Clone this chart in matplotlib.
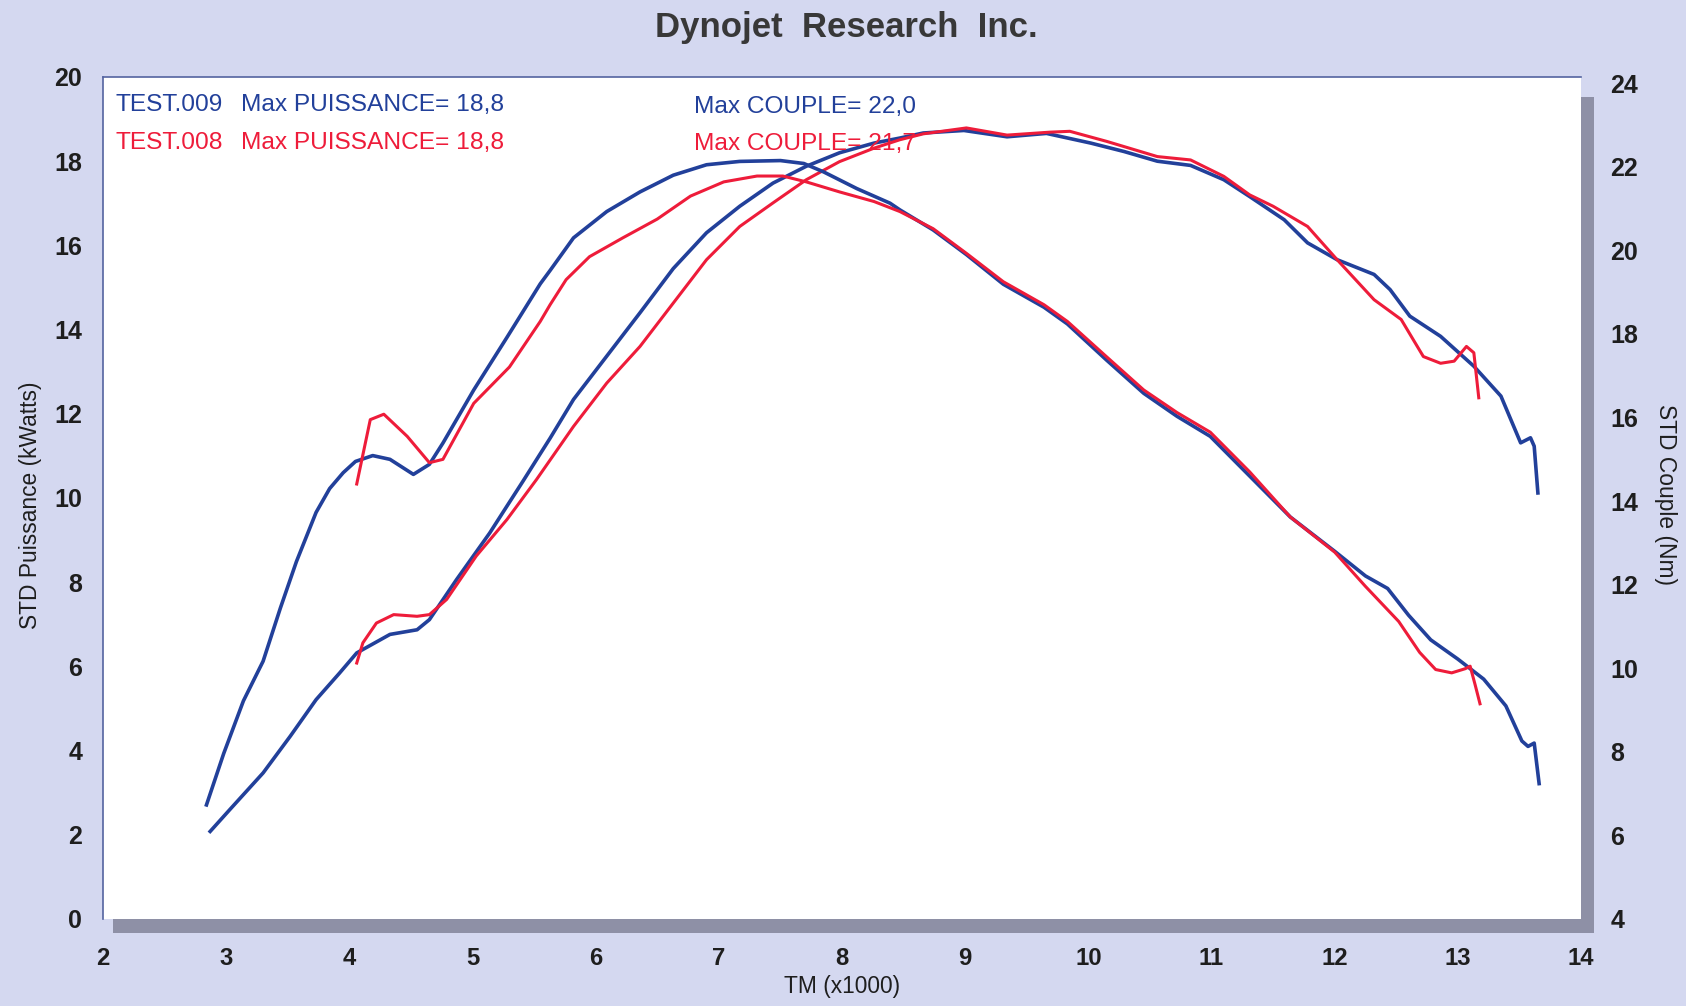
import matplotlib
matplotlib.use('Agg')
import matplotlib.pyplot as plt
from matplotlib.patches import Rectangle
from matplotlib import font_manager

# dyno run data, rpm in thousands
rpm_pw_009 = [2.87, 3.03, 3.30, 3.52, 3.73, 3.92, 4.06, 4.33, 4.55, 4.65, 4.87, 5.14, 5.30, 5.41,
              5.55, 5.63, 5.82, 6.09, 6.36, 6.63, 6.90, 7.17, 7.44, 7.71, 7.98, 8.26, 8.47, 8.66,
              8.99, 9.34, 9.66, 10.02, 10.29, 10.56, 10.83, 11.10, 11.31, 11.59, 11.78, 12.02,
              12.32, 12.45, 12.61, 12.86, 13.13, 13.35, 13.51, 13.59, 13.62, 13.65]
pw_009 = [2.08, 2.60, 3.47, 4.34, 5.21, 5.84, 6.32, 6.76, 6.87, 7.11, 8.06, 9.17, 9.90, 10.40,
          11.05, 11.42, 12.34, 13.37, 14.40, 15.45, 16.30, 16.93, 17.48, 17.88, 18.20, 18.43, 18.55, 18.67,
          18.73, 18.58, 18.66, 18.43, 18.23, 18.00, 17.90, 17.56, 17.16, 16.61, 16.06, 15.66,
          15.31, 14.95, 14.32, 13.84, 13.13, 12.42, 11.31, 11.43, 11.23, 10.12]

rpm_pw_008 = [4.06, 4.11, 4.22, 4.36, 4.55, 4.65, 4.79, 5.03, 5.28, 5.52, 5.82, 6.09, 6.36, 6.63,
              6.90, 7.17, 7.44, 7.71, 7.98, 8.26, 8.47, 8.66, 9.01, 9.34, 9.69, 9.85, 10.15, 10.56,
              10.83, 11.10, 11.31, 11.50, 11.78, 12.02, 12.32, 12.54, 12.72, 12.86, 12.97, 13.07,
              13.13, 13.17]
pw_008 = [6.08, 6.56, 7.03, 7.23, 7.19, 7.23, 7.59, 8.62, 9.49, 10.44, 11.70, 12.73, 13.60, 14.63,
          15.66, 16.45, 17.01, 17.56, 17.99, 18.31, 18.51, 18.65, 18.79, 18.62, 18.69, 18.71, 18.47, 18.11,
          18.03, 17.64, 17.20, 16.93, 16.45, 15.66, 14.71, 14.24, 13.36, 13.20, 13.25, 13.60,
          13.45, 12.38]

rpm_tq_009 = [2.84, 2.98, 3.14, 3.30, 3.44, 3.57, 3.73, 3.84, 3.95, 4.05, 4.19, 4.33, 4.52, 4.65,
              4.76, 5.01, 5.28, 5.55, 5.63, 5.82, 6.09, 6.36, 6.63, 6.90, 7.17, 7.50, 7.69, 7.85,
              8.12, 8.39, 8.47, 8.74, 9.01, 9.31, 9.64, 9.83, 10.15, 10.45, 10.72, 10.99, 11.31,
              11.64, 12.00, 12.25, 12.43, 12.60, 12.78, 13.00, 13.21, 13.39, 13.52, 13.57, 13.62, 13.66]
tq_009 = [6.73, 7.96, 9.22, 10.17, 11.44, 12.55, 13.73, 14.30, 14.68, 14.95, 15.09, 15.00, 14.64, 14.88,
          15.39, 16.66, 17.92, 19.20, 19.52, 20.30, 20.93, 21.40, 21.80, 22.05, 22.13, 22.15, 22.08, 21.88,
          21.48, 21.13, 20.97, 20.49, 19.90, 19.19, 18.64, 18.24, 17.37, 16.58, 16.03, 15.55, 14.60,
          13.62, 12.80, 12.21, 11.91, 11.27, 10.68, 10.22, 9.74, 9.10, 8.26, 8.13, 8.21, 7.24]

rpm_tq_008 = [4.06, 4.17, 4.28, 4.47, 4.65, 4.76, 5.01, 5.30, 5.55, 5.63, 5.76, 5.95, 6.22, 6.50,
              6.77, 7.04, 7.31, 7.52, 7.71, 7.98, 8.26, 8.47, 8.74, 9.01, 9.31, 9.64, 9.83, 10.15,
              10.45, 10.72, 10.99, 11.31, 11.64, 12.00, 12.25, 12.52, 12.69, 12.82, 12.95, 13.06,
              13.10, 13.14, 13.18]
tq_008 = [14.41, 15.95, 16.08, 15.55, 14.92, 15.00, 16.34, 17.21, 18.30, 18.70, 19.30, 19.85, 20.30, 20.75,
          21.30, 21.64, 21.78, 21.78, 21.64, 21.40, 21.17, 20.93, 20.52, 19.93, 19.25, 18.70, 18.30, 17.45,
          16.66, 16.12, 15.65, 14.70, 13.62, 12.78, 11.96, 11.12, 10.38, 9.97, 9.89, 9.99,
          10.05, 9.61, 9.15]

x_ticks = list(range(2, 15))
left_ticks = list(range(0, 21, 2))
right_ticks = list(range(4, 25, 2))

W, H = 1686, 1006
BG = '#d4d8f0'
BLUE = '#22409a'
RED = '#ee1c3a'

names = {f.name for f in font_manager.fontManager.ttflist}
narrow = 'Liberation Sans Narrow' in names
NARROW = 'Liberation Sans Narrow' if narrow else 'Liberation Sans'
k = 1.0 if narrow else 0.82

fig = plt.figure(figsize=(W / 100, H / 100), dpi=100, facecolor=BG)
ax = fig.add_axes([103 / W, 1 - 919 / H, (1581 - 103) / W, (919 - 77) / H])

# drop shadow behind the white plot area
fig.patches.append(Rectangle((113 / W, 1 - 933 / H), (1594 - 113) / W, (933 - 97) / H,
                             transform=fig.transFigure, facecolor='#8e90a6',
                             edgecolor='none', zorder=-1))

ax.set_facecolor('white')
ax.set_xlim(2, 14)
ax.set_ylim(0, 20)
ax.set_xticks(x_ticks)
ax.set_yticks(left_ticks)
for s in ['right', 'bottom']:
    ax.spines[s].set_visible(False)
for s in ['left', 'top']:
    ax.spines[s].set_color('#5464a0')
    ax.spines[s].set_linewidth(1.2)

ax2 = ax.twinx()
ax2.set_ylim(4.18, 24.15)
ax2.set_yticks(right_ticks)
for s in ax2.spines.values():
    s.set_visible(False)

ax.plot(rpm_pw_009, pw_009, color=BLUE, lw=2.6, solid_joinstyle='round', zorder=3)
ax.plot(rpm_pw_008, pw_008, color=RED, lw=2.2, solid_joinstyle='round', zorder=4)
ax2.plot(rpm_tq_009, tq_009, color=BLUE, lw=2.6, solid_joinstyle='round', zorder=3)
ax2.plot(rpm_tq_008, tq_008, color=RED, lw=2.2, solid_joinstyle='round', zorder=4)

ax.tick_params(axis='y', length=0, pad=15, labelsize=18, labelcolor='#1e1e1e')
ax.tick_params(axis='x', length=0, pad=20, labelcolor='#1e1e1e')
ax2.tick_params(axis='y', length=0, pad=21, labelsize=18, labelcolor='#1e1e1e')
for t in ax.get_yticklabels() + ax2.get_yticklabels():
    t.set_fontfamily('Liberation Sans')
    t.set_fontweight('bold')
for t in ax.get_xticklabels():
    t.set_fontfamily(NARROW)
    t.set_fontweight('bold')
    t.set_fontsize(21 * k)

fig.text(846 / W, 1 - 27 / H, 'Dynojet  Research  Inc.', ha='center', va='center',
         fontsize=25, fontweight='bold', family='Liberation Sans', color='#383838')
fig.text(30 / W, 1 - 505 / H, 'STD Puissance (kWatts)', rotation=90, ha='center', va='center',
         fontsize=20 * k, family=NARROW, color='#1e1e1e')
fig.text(1665 / W, 1 - 495 / H, 'STD Couple (Nm)', rotation=-90, ha='center', va='center',
         fontsize=20 * k, family=NARROW, color='#1e1e1e')
fig.text(842 / W, 1 - 987 / H, 'TM (x1000)', ha='center', va='center',
         fontsize=20 * k, family=NARROW, color='#1e1e1e')

leg = dict(va='center', ha='left', fontsize=21.5 * k, family=NARROW)
fig.text(116 / W, 1 - 105 / H, 'TEST.009', color=BLUE, **leg)
fig.text(241 / W, 1 - 105 / H, 'Max PUISSANCE= 18,8', color=BLUE, **leg)
fig.text(694 / W, 1 - 107 / H, 'Max COUPLE= 22,0', color=BLUE, **leg)
fig.text(116 / W, 1 - 143 / H, 'TEST.008', color=RED, **leg)
fig.text(241 / W, 1 - 143 / H, 'Max PUISSANCE= 18,8', color=RED, **leg)
fig.text(694 / W, 1 - 144 / H, 'Max COUPLE= 21,7', color=RED, **leg)

fig.savefig('out.png', dpi=100, facecolor=BG)
